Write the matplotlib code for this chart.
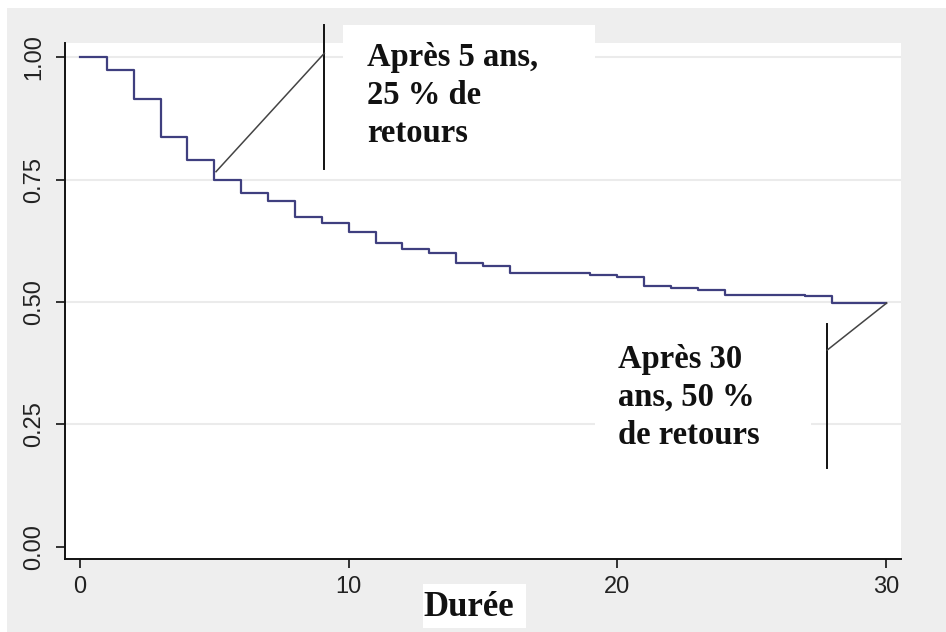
import matplotlib
matplotlib.use("Agg")
import matplotlib.pyplot as plt
from matplotlib.patches import Rectangle
from matplotlib.lines import Line2D

# ---- data ----
years = list(range(0, 31))
survival = [1.000, 0.973, 0.914, 0.837, 0.790, 0.749, 0.722, 0.707, 0.674, 0.661,
            0.643, 0.620, 0.608, 0.601, 0.579, 0.574, 0.560, 0.560, 0.560, 0.556,
            0.552, 0.533, 0.529, 0.524, 0.515, 0.515, 0.515, 0.512, 0.497, 0.497,
            0.497]
x_ticks = [0, 10, 20, 30]
y_ticks = [0.00, 0.25, 0.50, 0.75, 1.00]
y_ticklabels = ["0.00", "0.25", "0.50", "0.75", "1.00"]
note1 = "Après 5 ans,\n25 % de\nretours"
note2 = "Après 30\nans, 50 %\nde retours"
xlabel = "Durée"

W, H = 946, 632
fig = plt.figure(figsize=(W / 100, H / 100), dpi=100, facecolor="white")

def fx(px):
    return px / W

def fy(py):
    return 1 - py / H

# gray outer background
fig.add_artist(Rectangle((fx(7), 0), 1 - fx(7), fy(8), transform=fig.transFigure,
                         facecolor="#eeeeee", edgecolor="none", zorder=-10))

ax = fig.add_axes([fx(65), fy(559), fx(900.7) - fx(65), fy(43) - fy(559)])
ax.set_facecolor("white")
ax.set_zorder(0)

ax.plot(years, survival, drawstyle="steps-post", color="#3f3f7f", lw=1.6, zorder=3)

ax.set_xlim(-0.558, 30.547)
ax.set_ylim(-0.0245, 1.0286)
ax.set_xticks(x_ticks)
ax.set_xticklabels([str(t) for t in x_ticks])
ax.set_yticks(y_ticks)
ax.set_yticklabels(y_ticklabels, rotation=90, va="center")

for yv in y_ticks[1:]:
    ax.axhline(yv, color="#ebebeb", lw=1.5, zorder=1)

for s in ["top", "right"]:
    ax.spines[s].set_visible(False)
for s in ["left", "bottom"]:
    ax.spines[s].set_linewidth(1.4)
    ax.spines[s].set_color("#111111")

ax.tick_params(axis="both", length=6.5, width=1.2, color="#111111",
               labelsize=17, labelcolor="#222222")
ax.tick_params(axis="x", pad=6)
ax.tick_params(axis="y", pad=8)
for lab in ax.get_xticklabels() + ax.get_yticklabels():
    lab.set_family(["Liberation Sans", "DejaVu Sans"])

# white boxes (figure level, above the axes)
def wbox(x0, y0, x1, y1):
    fig.add_artist(Rectangle((fx(x0), fy(y1)), fx(x1) - fx(x0), fy(y0) - fy(y1),
                             transform=fig.transFigure, facecolor="white",
                             edgecolor="none", zorder=5))

wbox(343, 25, 595, 176)
wbox(595, 335, 811, 458)
wbox(422.7, 584, 525.7, 628)

# leader lines
def fline(pts, color, lw):
    xs = [fx(p[0]) for p in pts]
    ys = [fy(p[1]) for p in pts]
    fig.add_artist(Line2D(xs, ys, transform=fig.transFigure, color=color, lw=lw,
                          zorder=6))

fline([(324.3, 25), (324.3, 169)], "#111111", 1.4)
fline([(216, 171.7), (324.3, 53.3)], "#444444", 1.1)
fline([(827.3, 324), (827.3, 468)], "#111111", 1.4)
fline([(827.3, 350), (886.7, 303)], "#444444", 1.1)

serif = ["Liberation Serif", "DejaVu Serif"]
fig.text(fx(366.7), fy(42), note1, fontsize=23.5, fontweight="bold", family=serif,
         va="top", ha="left", linespacing=1.3, color="#111111", zorder=7)
fig.text(fx(618.3), fy(344), note2, fontsize=23.5, fontweight="bold", family=serif,
         va="top", ha="left", linespacing=1.3, color="#111111", zorder=7)
fig.text(fx(423.3), fy(616), xlabel, fontsize=25, fontweight="bold", family=serif,
         va="baseline", ha="left", color="#111111", zorder=7)

fig.savefig("out.png", dpi=100, facecolor="white")
